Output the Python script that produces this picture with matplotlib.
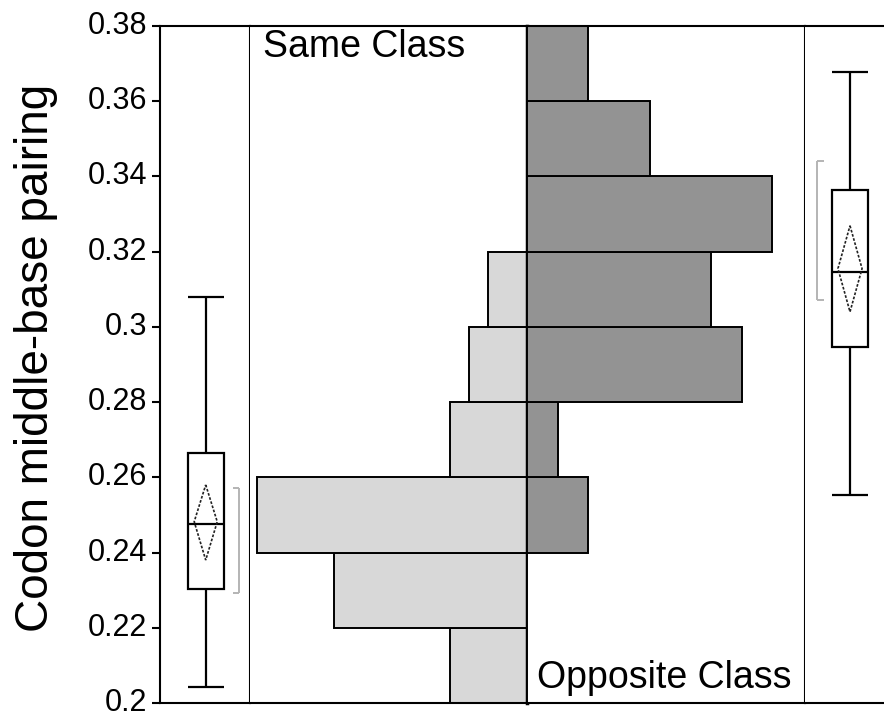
import matplotlib
matplotlib.use("Agg")
import matplotlib.pyplot as plt
from matplotlib.patches import Rectangle, Polygon
from matplotlib.transforms import ScaledTranslation

plt.rcParams['font.family'] = ['Liberation Sans', 'DejaVu Sans']

# Histogram bins (lower/upper edges) and counts per class
bin_edges = [0.20, 0.22, 0.24, 0.26, 0.28, 0.30, 0.32, 0.34, 0.36, 0.38]
same_counts = [4, 10, 14, 4, 3, 2, 0, 0, 0]
opposite_counts = [0, 0, 2, 1, 7, 6, 8, 4, 2]

# Box-plot summaries: whiskers, quartiles, median, mean with 95% CI, shortest half
same_stats = dict(whislo=0.2042, q1=0.2302, med=0.2477, q3=0.2666, whishi=0.3079,
                  mean=0.2482, ci_lo=0.2380, ci_hi=0.2580,
                  short_lo=0.2292, short_hi=0.2572)
opposite_stats = dict(whislo=0.2553, q1=0.2947, med=0.3145, q3=0.3363, whishi=0.3678,
                      mean=0.3155, ci_lo=0.3040, ci_hi=0.3269,
                      short_lo=0.3072, short_hi=0.3441)

y_ticks = [0.20, 0.22, 0.24, 0.26, 0.28, 0.30, 0.32, 0.34, 0.36, 0.38]
y_tick_labels = ["0.2", "0.22", "0.24", "0.26", "0.28", "0.3", "0.32", "0.34", "0.36", "0.38"]

W, H = 884, 713
fig = plt.figure(figsize=(W / 100, H / 100), dpi=100)


def px_axes(x0, x1, y_top=26, y_bot=703):
    return fig.add_axes([x0 / W, (H - y_bot) / H, (x1 - x0) / W, (y_bot - y_top) / H])


ax_l = px_axes(160, 250)
ax_ml = px_axes(250, 527)
ax_mr = px_axes(527, 805)
ax_r = px_axes(805, 895)

LW = 1.5
for ax in (ax_l, ax_ml, ax_mr, ax_r):
    ax.set_ylim(0.20, 0.38)
    for sp in ax.spines.values():
        sp.set_linewidth(LW)
    ax.set_xticks([])
    ax.set_yticks([])

ax_ml.spines['left'].set_visible(False)
ax_ml.spines['right'].set_linewidth(2.5)
ax_mr.spines['left'].set_visible(False)
ax_r.spines['left'].set_visible(False)
ax_r.spines['right'].set_visible(False)

# y axis ticks on the leftmost panel
ax_l.set_yticks(y_ticks)
ax_l.set_yticklabels(y_tick_labels)
ax_l.tick_params(axis='y', direction='out', length=5.8, width=LW, pad=3.5, labelsize=22)
for lab in ax_l.get_yticklabels():
    lab.set_transform(lab.get_transform() + ScaledTranslation(0, 2.5 / 72, fig.dpi_scale_trans))

# back-to-back histogram
centers = [(a + b) / 2 for a, b in zip(bin_edges[:-1], bin_edges[1:])]
bw = bin_edges[1] - bin_edges[0]
ax_ml.barh(centers, same_counts, height=bw, color='#d8d8d8', edgecolor='black', linewidth=1.4)
ax_ml.set_xlim(14.35, 0)
ax_mr.barh(centers, opposite_counts, height=bw, color='#939393', edgecolor='black', linewidth=1.4)
ax_mr.set_xlim(0, 9.06)

ax_ml.text(0.047, 0.954, "Same Class", transform=ax_ml.transAxes, fontsize=27,
           ha='left', va='baseline')
ax_mr.text(0.036, 0.022, "Opposite Class", transform=ax_mr.transAxes, fontsize=27,
           ha='left', va='baseline')


def draw_box(ax, s, cx, half_w, dia_hw, br_x, br_tip):
    ax.set_xlim(0, 1)
    kw = dict(color='black', linewidth=1.6)
    ax.vlines(cx, s['whislo'], s['q1'], **kw)
    ax.vlines(cx, s['q3'], s['whishi'], **kw)
    ax.hlines([s['whislo'], s['whishi']], cx - half_w, cx + half_w, **kw)
    ax.add_patch(Rectangle((cx - half_w, s['q1']), 2 * half_w, s['q3'] - s['q1'],
                           facecolor='white', edgecolor='black', linewidth=1.6, zorder=2))
    ax.hlines(s['med'], cx - half_w, cx + half_w, zorder=3, **kw)
    ax.add_patch(Polygon([(cx, s['ci_hi']), (cx + dia_hw, s['mean']),
                          (cx, s['ci_lo']), (cx - dia_hw, s['mean'])],
                         closed=True, fill=False, edgecolor='#222222',
                         linewidth=1.2, linestyle=(0, (1.6, 1.0)), zorder=4))
    gkw = dict(color='#b4b4b4', linewidth=1.4)
    ax.vlines(br_x, s['short_lo'], s['short_hi'], **gkw)
    ax.hlines([s['short_lo'], s['short_hi']], min(br_x, br_tip), max(br_x, br_tip), **gkw)


draw_box(ax_l, same_stats, cx=0.508, half_w=0.198, dia_hw=0.128, br_x=0.874, br_tip=0.808)
draw_box(ax_r, opposite_stats, cx=0.50, half_w=0.198, dia_hw=0.134, br_x=0.13, br_tip=0.206)

fig.text(36 / W, (H - 358) / H, "Codon middle-base pairing", rotation=90,
         fontsize=33, ha='center', va='center')

fig.savefig("out.png", dpi=100)
